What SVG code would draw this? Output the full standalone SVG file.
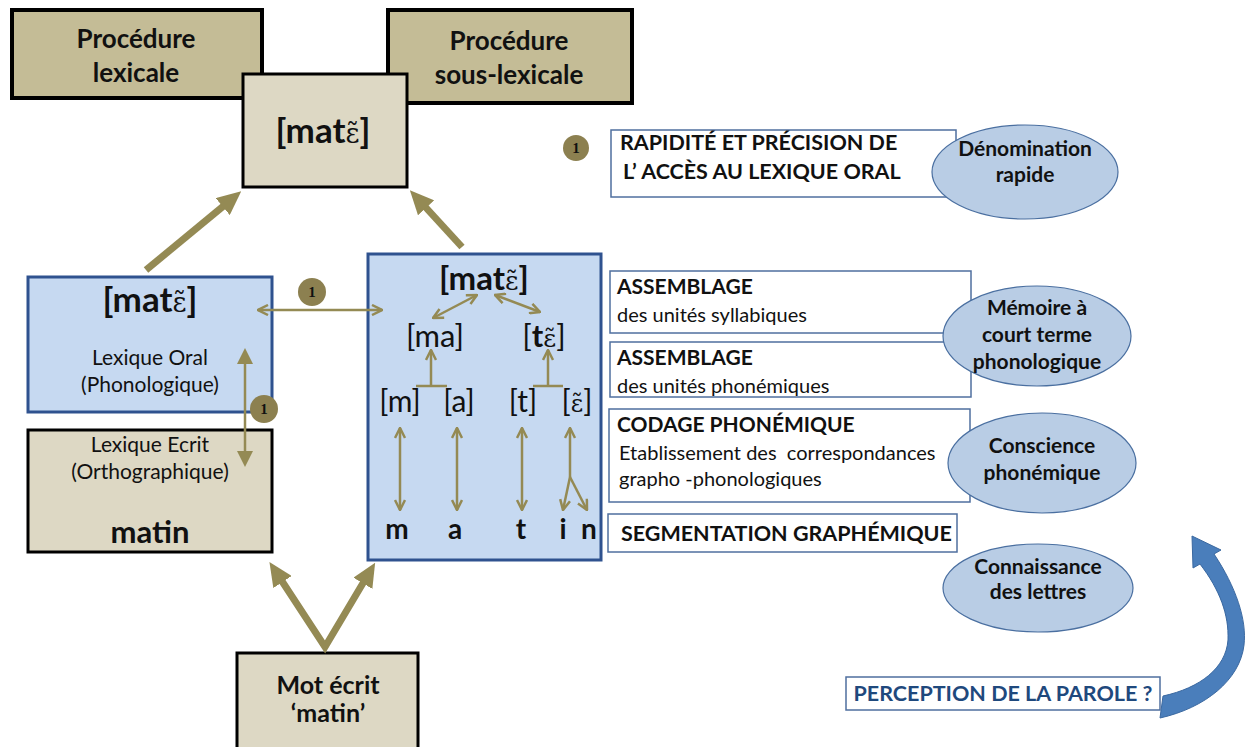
<svg xmlns="http://www.w3.org/2000/svg" width="1247" height="747" viewBox="0 0 1247 747">
<defs>
<style>
.t{font-family:Lato,"Open Sans","Liberation Sans",sans-serif;fill:#111}
.b{font-weight:bold}
.ser{font-family:"DejaVu Serif",serif;font-weight:normal}
.tan{fill:#c4bc96;stroke:#000;stroke-width:4}
.beige{fill:#ddd8c4;stroke:#000;stroke-width:3}
.blue{fill:#c6d9f1;stroke:#2f528f;stroke-width:3}
.wbox{fill:#fff;stroke:#4f6f9f;stroke-width:1.5}
.ell{fill:#b9cde5;stroke:#4a6fa0;stroke-width:1.2}
.big{stroke:#948a54;stroke-width:7;fill:none}
.thin{stroke:#948a54;stroke-width:2.5;fill:none}
.num{fill:#8c8050}
.numt{font-family:"Liberation Serif",serif;font-weight:bold;font-size:15px;fill:#111}
</style>
<marker id="bh" viewBox="0 0 24 22" refX="12" refY="11" markerWidth="24" markerHeight="22" markerUnits="userSpaceOnUse" orient="auto-start-reverse">
<path d="M0,0 L24,11 L0,22 Z" fill="#948a54"/>
</marker>
<marker id="ch" viewBox="0 0 12 12" refX="11" refY="6" markerWidth="12" markerHeight="12" markerUnits="userSpaceOnUse" orient="auto-start-reverse">
<path d="M1,1 L11,6 L1,11" fill="none" stroke="#948a54" stroke-width="2.5"/>
</marker>
<marker id="th" viewBox="0 0 16 16" refX="8" refY="8" markerWidth="16" markerHeight="16" markerUnits="userSpaceOnUse" orient="auto-start-reverse">
<path d="M0,0 L16,8 L0,16 Z" fill="#948a54"/>
</marker>
</defs>
<rect width="1247" height="747" fill="#fff"/>

<g id="proc-lex">
<rect class="tan" x="12" y="10" width="250" height="88"/>
<text class="t b" x="136" y="48" font-size="26" text-anchor="middle">Procédure</text>
<text class="t b" x="136" y="82" font-size="26" text-anchor="middle">lexicale</text>
</g>
<g id="proc-sous">
<rect class="tan" x="388" y="10" width="244" height="93"/>
<text class="t b" x="509" y="50" font-size="26" text-anchor="middle">Procédure</text>
<text class="t b" x="509" y="84" font-size="26" text-anchor="middle">sous-lexicale</text>
</g>
<g id="center">
<rect class="beige" x="243" y="74" width="164" height="113"/>
<text class="t b" x="323" y="143" font-size="35" text-anchor="middle">[mat<tspan class="ser" font-size="27">ɛ̃</tspan>]</text>
</g>

<g id="lex-oral">
<rect class="blue" x="28" y="277" width="244" height="135"/>
<text class="t b" x="150" y="312" font-size="35" text-anchor="middle">[mat<tspan class="ser" font-size="27">ɛ̃</tspan>]</text>
<text class="t" x="150" y="365" font-size="21" text-anchor="middle">Lexique Oral</text>
<text class="t" x="150" y="392" font-size="21" text-anchor="middle">(Phonologique)</text>
</g>
<g id="lex-ecrit">
<rect class="beige" x="28" y="430" width="244" height="122"/>
<text class="t" x="150" y="452" font-size="21" text-anchor="middle">Lexique Ecrit</text>
<text class="t" x="150" y="479" font-size="21" text-anchor="middle">(Orthographique)</text>
<text class="t b" x="150" y="543" font-size="31" text-anchor="middle">matin</text>
</g>

<g id="sublex">
<rect class="blue" x="368" y="254" width="233" height="306"/>
<text class="t b" x="484" y="290" font-size="33" text-anchor="middle">[mat<tspan class="ser" font-size="26">ɛ̃</tspan>]</text>
<text class="t" x="435" y="347" font-size="31" text-anchor="middle">[ma]</text>
<text class="t" x="544" y="347" font-size="31" text-anchor="middle">[<tspan class="b">t</tspan><tspan class="ser" font-size="25">ɛ̃</tspan>]</text>
<text class="t" x="400" y="412" font-size="30" text-anchor="middle">[m]</text>
<text class="t" x="459" y="412" font-size="30" text-anchor="middle">[a]</text>
<text class="t" x="523" y="412" font-size="30" text-anchor="middle">[t]</text>
<text class="t" x="577" y="412" font-size="30" text-anchor="middle">[<tspan class="ser" font-size="24">ɛ̃</tspan>]</text>
<text class="t b" x="397" y="539" font-size="28" text-anchor="middle">m</text>
<text class="t b" x="455" y="539" font-size="28" text-anchor="middle">a</text>
<text class="t b" x="521" y="539" font-size="28" text-anchor="middle">t</text>
<text class="t b" x="563" y="539" font-size="28" text-anchor="middle">i</text>
<text class="t b" x="589" y="539" font-size="28" text-anchor="middle">n</text>
</g>

<g id="mot">
<rect class="beige" x="237" y="653" width="181" height="100"/>
<text class="t b" x="328" y="694" font-size="25" text-anchor="middle">Mot écrit</text>
<text class="t b" x="328" y="722" font-size="25" text-anchor="middle">‘matin’</text>
</g>

<g id="box-rapid">
<rect class="wbox" x="611" y="130" width="345" height="67"/>
<text class="t b" x="620" y="150" font-size="21.5">RAPIDITÉ ET PRÉCISION DE</text>
<text class="t b" x="623" y="179" font-size="21.5">L’ ACCÈS AU LEXIQUE ORAL</text>
</g>
<g id="box-ass1">
<rect class="wbox" x="610" y="271" width="361" height="62"/>
<text class="t b" x="617" y="294" font-size="21">ASSEMBLAGE</text>
<text class="t" x="617" y="322" font-size="20">des unités syllabiques</text>
</g>
<g id="box-ass2">
<rect class="wbox" x="610" y="342" width="361" height="55"/>
<text class="t b" x="617" y="365" font-size="21">ASSEMBLAGE</text>
<text class="t" x="617" y="393" font-size="20">des unités phonémiques</text>
</g>
<g id="box-codage">
<rect class="wbox" x="609" y="409" width="361" height="93"/>
<text class="t b" x="617" y="432" font-size="21">CODAGE PHONÉMIQUE</text>
<text class="t" x="619" y="460" font-size="20" xml:space="preserve">Etablissement des  correspondances</text>
<text class="t" x="619" y="486" font-size="20">grapho -phonologiques</text>
</g>
<g id="box-seg">
<rect class="wbox" x="608" y="514" width="349" height="38"/>
<text class="t b" x="621" y="541" font-size="21.5">SEGMENTATION GRAPHÉMIQUE</text>
</g>

<g id="ell-denom">
<ellipse class="ell" cx="1025" cy="172" rx="93" ry="47"/>
<text class="t b" x="1025" y="156" font-size="21" text-anchor="middle">Dénomination</text>
<text class="t b" x="1025" y="182" font-size="21" text-anchor="middle">rapide</text>
</g>
<g id="ell-mem">
<ellipse class="ell" cx="1037" cy="336" rx="94" ry="50"/>
<text class="t b" x="1037" y="315" font-size="21" text-anchor="middle">Mémoire à</text>
<text class="t b" x="1037" y="342" font-size="21" text-anchor="middle">court terme</text>
<text class="t b" x="1037" y="369" font-size="21" text-anchor="middle">phonologique</text>
</g>
<g id="ell-consc">
<ellipse class="ell" cx="1042" cy="463" rx="94" ry="50"/>
<text class="t b" x="1042" y="453" font-size="21" text-anchor="middle">Conscience</text>
<text class="t b" x="1042" y="480" font-size="21" text-anchor="middle">phonémique</text>
</g>
<g id="ell-conn">
<ellipse class="ell" cx="1038" cy="588" rx="95" ry="44"/>
<text class="t b" x="1038" y="574" font-size="21" text-anchor="middle">Connaissance</text>
<text class="t b" x="1038" y="599" font-size="21" text-anchor="middle">des lettres</text>
</g>
<g id="perception">
<rect class="wbox" x="846" y="677" width="314" height="33"/>
<text class="t b" x="1003" y="701" font-size="21.5" text-anchor="middle" style="fill:#1f497d">PERCEPTION DE LA PAROLE ?</text>
</g>

<g id="connectors">
<line class="big" x1="146" y1="270" x2="232" y2="199" marker-end="url(#bh)"/>
<line class="big" x1="462" y1="247" x2="418" y2="199" marker-end="url(#bh)"/>
<polyline class="big" points="276,572 325,647 369,573" stroke-linejoin="miter" marker-start="url(#bh)" marker-end="url(#bh)"/>
<line class="thin" x1="258" y1="310" x2="382" y2="310" marker-start="url(#ch)" marker-end="url(#ch)"/>
<line class="thin" stroke-width="3" x1="245" y1="356" x2="245" y2="459" marker-start="url(#th)" marker-end="url(#th)"/>
<line class="thin" x1="477" y1="295" x2="433" y2="318" marker-start="url(#ch)" marker-end="url(#ch)"/>
<line class="thin" x1="495" y1="295" x2="540" y2="312" marker-start="url(#ch)" marker-end="url(#ch)"/>
<line class="thin" x1="431" y1="386" x2="431" y2="350" marker-end="url(#ch)"/>
<line class="thin" x1="416" y1="386" x2="447" y2="386"/>
<line class="thin" x1="548" y1="386" x2="548" y2="350" marker-end="url(#ch)"/>
<line class="thin" x1="533" y1="386" x2="563" y2="386"/>
<line class="thin" x1="400" y1="428" x2="400" y2="510" marker-start="url(#ch)" marker-end="url(#ch)"/>
<line class="thin" x1="457" y1="428" x2="457" y2="510" marker-start="url(#ch)" marker-end="url(#ch)"/>
<line class="thin" x1="522" y1="428" x2="522" y2="510" marker-start="url(#ch)" marker-end="url(#ch)"/>
<line class="thin" x1="570" y1="477" x2="570" y2="428" marker-end="url(#ch)"/>
<line class="thin" x1="570" y1="477" x2="563" y2="510" marker-end="url(#ch)"/>
<line class="thin" x1="570" y1="477" x2="587" y2="510" marker-end="url(#ch)"/>
<path d="M1192,536 L1221,550 L1214,554 C1236,587 1247,620 1244,645 C1240,680 1205,708 1160,718 L1163,696 C1200,688 1226,668 1228,640 C1229,615 1220,590 1200,564 L1193,568 Z" fill="#4a7ebb" stroke="#3a68a0" stroke-width="1"/>
</g>

<g id="badges">
<circle class="num" cx="312" cy="292" r="14"/>
<text class="numt" x="312" y="297" text-anchor="middle">1</text>
<circle class="num" cx="264" cy="409" r="14"/>
<text class="numt" x="264" y="414" text-anchor="middle">1</text>
<circle class="num" cx="576" cy="148" r="13"/>
<text class="numt" x="576" y="153" text-anchor="middle">1</text>
</g>
</svg>
